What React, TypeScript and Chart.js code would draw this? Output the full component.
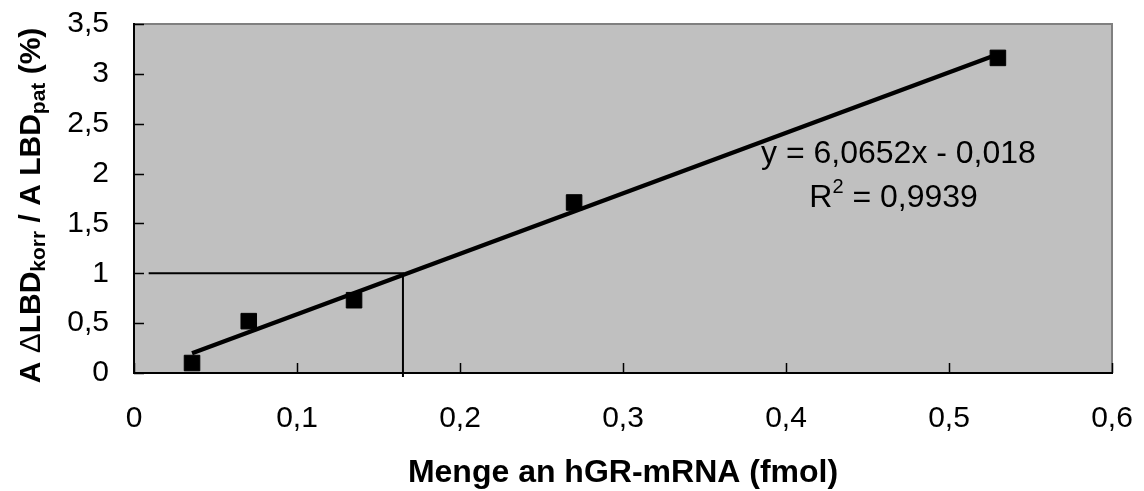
import React, { useEffect, useRef } from "react";
import { Chart, registerables } from "chart.js";

Chart.register(...registerables);

// ---- data ----
const xValues = [0.0356, 0.0704, 0.135, 0.27, 0.53];
const yValues = [0.1, 0.52, 0.73, 1.71, 3.16];
const xTicks = [0, 0.1, 0.2, 0.3, 0.4, 0.5, 0.6];
const yTicks = [0, 0.5, 1, 1.5, 2, 2.5, 3, 3.5];
const trendSlope = 6.0652;
const trendIntercept = -0.018;
const guideY = 1;
const guideX = 0.165;
const guideXStart = 0.009;
const guideYEnd = -0.04;
const equationText = "y = 6,0652x - 0,018";
const rSquaredLabel = "R";
const rSquaredSup = "2";
const rSquaredValue = " = 0,9939";
const equationAnchor = [0.469, 2.106];
const rSquaredAnchor = [0.466, 1.665];
const xTitle = "Menge an hGR-mRNA (fmol)";
const yTitleParts: { text: string; sub: boolean; bold: boolean }[] = [
  { text: "A ", sub: false, bold: true },
  { text: "\u0394", sub: false, bold: false },
  { text: "LBD", sub: false, bold: true },
  { text: "korr", sub: true, bold: true },
  { text: " / A LBD", sub: false, bold: true },
  { text: "pat", sub: true, bold: true },
  { text: " (%)", sub: false, bold: true },
];

const FONT = "'Liberation Sans', Arial, Helvetica, sans-serif";

const fmt = (v: number) => String(Math.round(v * 10) / 10).replace(".", ",");

const decorPlugin = {
  id: "decor",
  beforeDraw(chart: any) {
    const { ctx, chartArea } = chart;
    const { left, top, right, bottom } = chartArea;
    ctx.save();
    ctx.fillStyle = "#C0C0C0";
    ctx.fillRect(left, top, right - left, bottom - top);
    ctx.strokeStyle = "#808080";
    ctx.lineWidth = 2;
    ctx.strokeRect(left, top, right - left, bottom - top);
    ctx.restore();
  },
  beforeDatasetsDraw(chart: any) {
    const { ctx, chartArea, scales } = chart;
    const xs = scales.x;
    const ys = scales.y;
    ctx.save();
    ctx.strokeStyle = "#000";
    ctx.lineWidth = 1.5;
    ctx.beginPath();
    yTicks.forEach((v) => {
      const py = Math.round(ys.getPixelForValue(v)) + 0.5;
      ctx.moveTo(chartArea.left, py);
      ctx.lineTo(chartArea.left + 10, py);
    });
    xTicks.forEach((v) => {
      const px = Math.round(xs.getPixelForValue(v)) + 0.5;
      ctx.moveTo(px, chartArea.bottom);
      ctx.lineTo(px, chartArea.bottom - 10);
    });
    ctx.stroke();
    ctx.restore();
  },
  afterDraw(chart: any) {
    const { ctx, chartArea, scales } = chart;
    const xs = scales.x;
    const ys = scales.y;
    ctx.save();
    ctx.fillStyle = "#000";
    // equation annotation
    ctx.font = `32px ${FONT}`;
    ctx.textBaseline = "alphabetic";
    ctx.textAlign = "center";
    ctx.fillText(
      equationText,
      xs.getPixelForValue(equationAnchor[0]),
      ys.getPixelForValue(equationAnchor[1])
    );
    // R^2 line
    const rW = ctx.measureText(rSquaredLabel).width;
    const vW = ctx.measureText(rSquaredValue).width;
    ctx.font = `20px ${FONT}`;
    const sW = ctx.measureText(rSquaredSup).width;
    const total = rW + sW + vW;
    const cx = xs.getPixelForValue(rSquaredAnchor[0]);
    const by = ys.getPixelForValue(rSquaredAnchor[1]);
    let sx = cx - total / 2;
    ctx.textAlign = "left";
    ctx.font = `32px ${FONT}`;
    ctx.fillText(rSquaredLabel, sx, by);
    sx += rW;
    ctx.font = `20px ${FONT}`;
    ctx.fillText(rSquaredSup, sx, by - 14);
    sx += sW;
    ctx.font = `32px ${FONT}`;
    ctx.fillText(rSquaredValue, sx, by);

    // x title
    ctx.font = `bold 32px ${FONT}`;
    ctx.textAlign = "center";
    ctx.fillText(xTitle, (chartArea.left + chartArea.right) / 2, 482);

    // y title (rotated, with subscripts)
    const fontFor = (p: { sub: boolean; bold: boolean }) =>
      `${p.bold ? "bold " : ""}${p.sub ? 21 : 30}px ${FONT}`;
    let len = 0;
    yTitleParts.forEach((p) => {
      ctx.font = fontFor(p);
      len += ctx.measureText(p.text).width;
    });
    const cy = (chartArea.top + chartArea.bottom) / 2 + 7;
    ctx.translate(40, cy);
    ctx.rotate(-Math.PI / 2);
    ctx.textAlign = "left";
    let tx = -len / 2;
    yTitleParts.forEach((p) => {
      ctx.font = fontFor(p);
      ctx.fillText(p.text, tx, p.sub ? 5 : 0);
      tx += ctx.measureText(p.text).width;
    });
    ctx.restore();
  },
};

export default function App() {
  const ref = useRef<HTMLCanvasElement | null>(null);

  useEffect(() => {
    if (!ref.current) return;
    const trendStart = xValues[0];
    const trendEnd = xValues[xValues.length - 1];
    const chart = new Chart(ref.current, {
      type: "scatter",
      data: {
        datasets: [
          {
            data: [
              { x: guideXStart, y: guideY },
              { x: guideX, y: guideY },
              { x: guideX, y: guideYEnd },
            ],
            showLine: true,
            borderColor: "#000",
            borderWidth: 2,
            pointRadius: 0,
            tension: 0,
            clip: false as any,
          },
          {
            data: [
              { x: trendStart, y: trendSlope * trendStart + trendIntercept },
              { x: trendEnd, y: trendSlope * trendEnd + trendIntercept },
            ],
            showLine: true,
            borderColor: "#000",
            borderWidth: 4.5,
            pointRadius: 0,
            clip: false as any,
          },
          {
            data: xValues.map((x, i) => ({ x, y: yValues[i] })),
            pointStyle: "rect",
            pointRadius: 11,
            backgroundColor: "#000",
            borderColor: "#000",
            borderWidth: 1,
            clip: false as any,
          },
        ],
      },
      options: {
        animation: false,
        responsive: true,
        maintainAspectRatio: false,
        devicePixelRatio: 1,
        events: [],
        layout: { padding: { top: 24, right: 32, left: 0, bottom: 0 } },
        plugins: { legend: { display: false }, tooltip: { enabled: false } },
        scales: {
          x: {
            type: "linear",
            min: 0,
            max: 0.6,
            afterBuildTicks: (s: any) => {
              s.ticks = xTicks.map((v) => ({ value: v }));
            },
            afterFit: (s: any) => {
              s.height = 118;
              s.paddingLeft = 0;
              s.paddingRight = 0;
            },
            grid: { display: false, drawTicks: false },
            border: { display: true, color: "#000", width: 2 },
            ticks: {
              color: "#000",
              font: { family: FONT, size: 30 },
              padding: 28,
              maxRotation: 0,
              autoSkip: false,
              callback: (v: any) => fmt(Number(v)),
            },
          },
          y: {
            type: "linear",
            min: 0,
            max: 3.5,
            afterBuildTicks: (s: any) => {
              s.ticks = yTicks.map((v) => ({ value: v }));
            },
            afterFit: (s: any) => {
              s.width = 134;
              s.paddingTop = 0;
              s.paddingBottom = 0;
            },
            grid: { display: false, drawTicks: false },
            border: { display: true, color: "#000", width: 2 },
            ticks: {
              color: "#000",
              font: { family: FONT, size: 30 },
              padding: 25,
              autoSkip: false,
              callback: (v: any) => fmt(Number(v)),
            },
          },
        },
      },
      plugins: [decorPlugin],
    });
    return () => chart.destroy();
  }, []);

  return (
    <div style={{ position: "fixed", left: 0, top: 0, width: 1144, height: 491, background: "#fff" }}>
      <canvas ref={ref} />
    </div>
  );
}
